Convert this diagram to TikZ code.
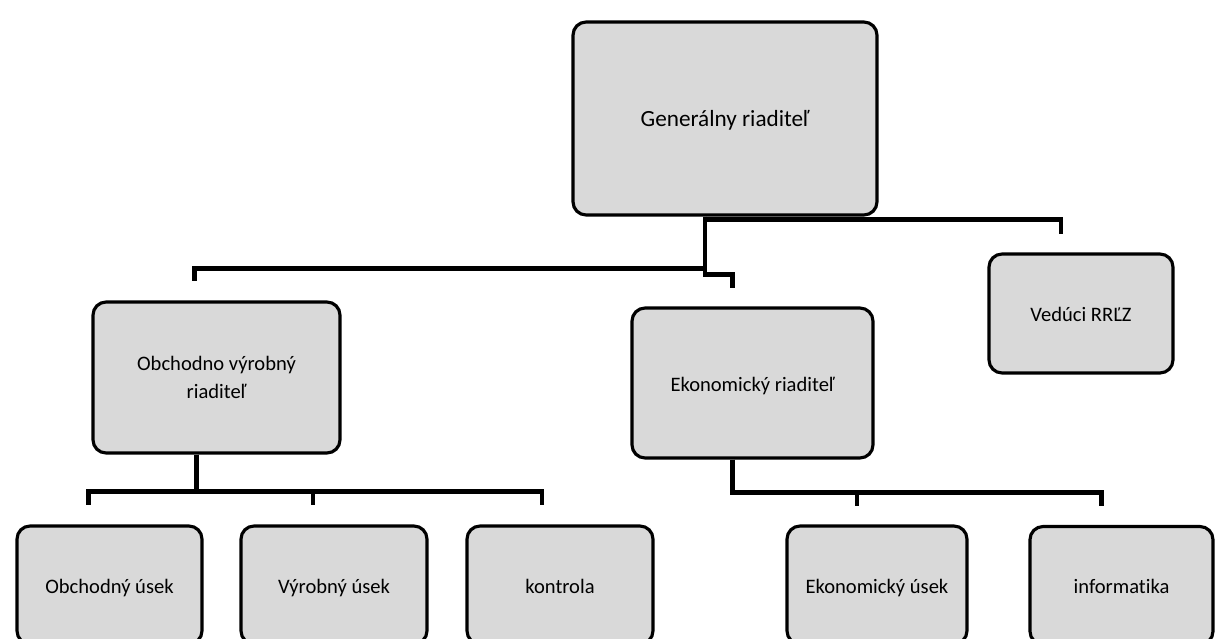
\documentclass[tikz,border=0pt]{standalone}
\usepackage{fontspec}
\setmainfont[RawFeature=-liga]{Carlito}
\usepackage{tikz}
\usetikzlibrary{calc,positioning}

\definecolor{boxgray}{gray}{0.85}

\begin{document}
\begin{tikzpicture}[x=0.02cm,y=-0.02cm,
    box/.style={rectangle,rounded corners=0.26cm,draw,line width=1.8pt,fill=boxgray,text centered,align=center,inner sep=0pt,text height=2.2ex,text depth=0.2ex,font=\fontsize{11.7}{16}\selectfont},
    conn/.style={line width=2.6pt,line join=miter}]
        \useasboundingbox (0,0) rectangle (1215,639);
        \clip (0,0) rectangle (1215,639);
        % Nodes
        \node(gen) at (725,118.5)[box,minimum width=6.08cm,minimum height=3.86cm,font=\fontsize{13.2}{17}\selectfont] {Generálny riaditeľ};
        \node(obv) at (216.5,377.5)[box,minimum width=4.94cm,minimum height=3.02cm,text height=,text depth=] {Obchodno výrobný\\riaditeľ};
        \node(eko) at (752.5,383)[box,minimum width=4.82cm,minimum height=3cm] {Ekonomický riaditeľ};
        \node(ved) at (1081,313.5)[box,minimum width=3.68cm,minimum height=2.38cm] {Vedúci RRĽZ};
        \node(obch) at (109.5,585)[box,minimum width=3.7cm,minimum height=2.36cm] {Obchodný úsek};
        \node(vyr) at (334,585)[box,minimum width=3.72cm,minimum height=2.36cm] {Výrobný úsek};
        \node(kon) at (560,585)[box,minimum width=3.72cm,minimum height=2.36cm] {kontrola};
        \node(ekou) at (877,585)[box,minimum width=3.6cm,minimum height=2.36cm] {Ekonomický úsek};
        \node(inf) at (1121.5,585.5)[box,minimum width=3.66cm,minimum height=2.36cm] {informatika};
        % Links
        \draw[conn,shorten >=0.38cm] ($(gen.south)+(-20,0)$) -- ++(0,52) -| ($(obv.north)+(-22,0)$);
        \draw[conn,shorten >=0.36cm] ($(gen.south)+(-20,0)$) -- ++(0,58) -| ($(eko.north)+(-20,0)$);
        \draw[conn,shorten >=0.36cm] ($(gen.south)+(-20,3)$) -| ($(ved.north)+(-20,0)$);
        \draw[conn,shorten >=0.38cm] ($(obv.south)+(-20,0)$) -- ++(0,37) -| ($(obch.north)+(-21,0)$);
        \draw[conn,shorten >=0.38cm] ($(obv.south)+(-20,0)$) -- ++(0,37) -| ($(vyr.north)+(-21,0)$);
        \draw[conn,shorten >=0.38cm] ($(obv.south)+(-20,0)$) -- ++(0,37) -| ($(kon.north)+(-18,0)$);
        \draw[conn,shorten >=0.36cm] ($(eko.south)+(-20,0)$) -- ++(0,33) -| ($(ekou.north)+(-20,0)$);
        \draw[conn,shorten >=0.38cm] ($(eko.south)+(-20,0)$) -- ++(0,33) -| ($(inf.north)+(-20,0)$);
    \end{tikzpicture}
\end{document}
